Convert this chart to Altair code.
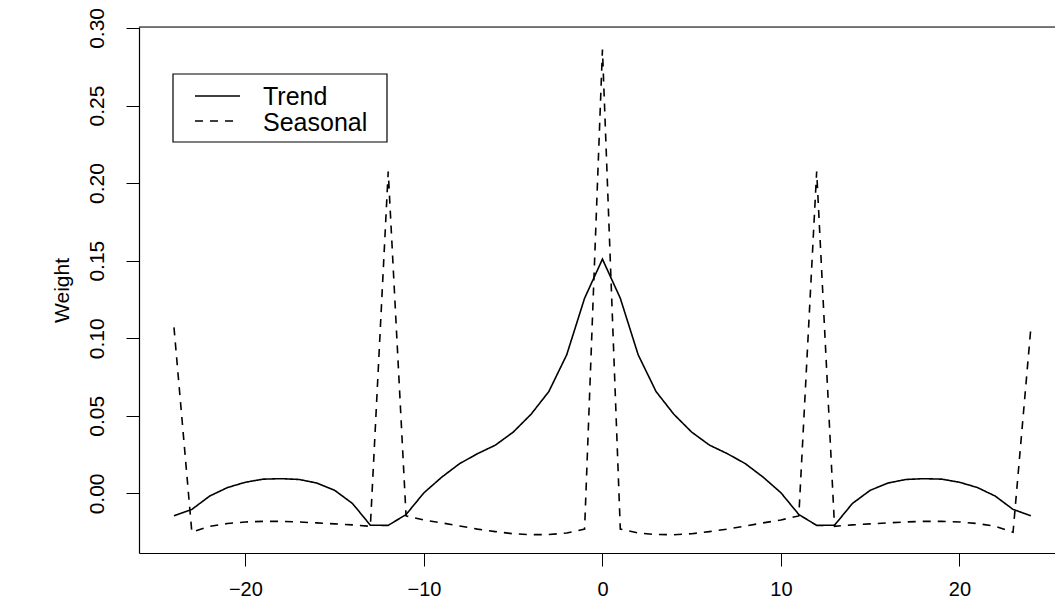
import altair as alt
import pandas as pd

lags = list(range(-24, 25))

trend = [-0.0144, -0.0103, -0.0017, 0.0038, 0.0072, 0.0092, 0.0095, 0.0090, 0.0067, 0.0020,
         -0.0065, -0.0205, -0.0206, -0.0136, 0.0004, 0.0105, 0.0192, 0.0256, 0.0311, 0.0395,
         0.0510, 0.0657, 0.0894, 0.1258, 0.1510, 0.1258, 0.0894, 0.0657, 0.0510, 0.0395,
         0.0311, 0.0256, 0.0192, 0.0105, 0.0004, -0.0136, -0.0206, -0.0205, -0.0065, 0.0020,
         0.0067, 0.0090, 0.0095, 0.0092, 0.0072, 0.0038, -0.0017, -0.0103, -0.0144]

seasonal = [0.1070, -0.0250, -0.0212, -0.0194, -0.0184, -0.0180, -0.0180, -0.0184, -0.0190, -0.0196,
            -0.0203, -0.0212, 0.2075, -0.0145, -0.0171, -0.0190, -0.0210, -0.0230, -0.0246, -0.0260,
            -0.0266, -0.0265, -0.0255, -0.0230, 0.2860, -0.0230, -0.0255, -0.0265, -0.0266, -0.0260,
            -0.0246, -0.0230, -0.0210, -0.0190, -0.0171, -0.0145, 0.2075, -0.0212, -0.0203, -0.0196,
            -0.0190, -0.0184, -0.0180, -0.0180, -0.0184, -0.0194, -0.0212, -0.0250, 0.1070]

series_names = ["Trend", "Seasonal"]
y_ticks = [0.0, 0.05, 0.10, 0.15, 0.20, 0.25, 0.30]
x_ticks = [-20, -10, 0, 10, 20]

df = pd.DataFrame({
    "lag": lags * 2,
    "weight": trend + seasonal,
    "series": [series_names[0]] * len(lags) + [series_names[1]] * len(lags),
})

FONT = "Liberation Sans"
W, H = 916, 526
DASH = [8, 7]

x_scale = alt.Scale(domain=[-25.96, 25.35], nice=False, zero=False)
y_scale = alt.Scale(domain=[-0.0384, 0.3006], nice=False, zero=False)

lines = alt.Chart(df).mark_line(color="black", strokeWidth=1.6).encode(
    x=alt.X("lag:Q", scale=x_scale,
            axis=alt.Axis(title=None, values=x_ticks, format="d", grid=False,
                          tickSize=13, tickColor="black", tickWidth=1,
                          domainColor="black", domainWidth=1.2,
                          labelFont=FONT, labelFontSize=20, labelColor="black",
                          labelPadding=13, labelBaseline="top")),
    y=alt.Y("weight:Q", scale=y_scale,
            axis=alt.Axis(title="Weight", values=y_ticks, format=".2f", grid=False,
                          tickSize=13, tickColor="black", tickWidth=1,
                          domainColor="black", domainWidth=1.2,
                          labelFont=FONT, labelFontSize=21, labelColor="black",
                          labelAngle=270, labelAlign="center", labelBaseline="middle",
                          labelPadding=29, labelOverlap=False,
                          titleFont=FONT, titleFontSize=21, titleFontWeight="normal",
                          titleColor="black", titleAngle=270, titleX=-77, titleY=H / 2,
                          titleAlign="center", titleBaseline="middle")),
    strokeDash=alt.StrokeDash("series:N",
                              scale=alt.Scale(domain=series_names, range=[[1, 0], DASH]),
                              legend=None),
    detail="series:N",
)

one = pd.DataFrame({"k": [0]})

top_border = alt.Chart(one).mark_rule(color="black", strokeWidth=1.2).encode(
    x=alt.value(0), x2=alt.value(W), y=alt.value(0)
)

legend_box = alt.Chart(one).mark_rect(fill="white", stroke="black", strokeWidth=1.2).encode(
    x=alt.value(34), x2=alt.value(248), y=alt.value(47), y2=alt.value(115)
)
legend_trend = alt.Chart(one).mark_rule(color="black", strokeWidth=1.6).encode(
    x=alt.value(56), x2=alt.value(101), y=alt.value(69)
)
legend_seas = alt.Chart(one).mark_rule(color="black", strokeWidth=1.6, strokeDash=DASH).encode(
    x=alt.value(56), x2=alt.value(101), y=alt.value(94)
)
legend_t1 = alt.Chart(one).mark_text(align="left", baseline="middle", font=FONT,
                                     fontSize=25, color="black", text=series_names[0]).encode(
    x=alt.value(124), y=alt.value(70)
)
legend_t2 = alt.Chart(one).mark_text(align="left", baseline="middle", font=FONT,
                                     fontSize=25, color="black", text=series_names[1]).encode(
    x=alt.value(124), y=alt.value(96)
)

chart = alt.layer(
    lines, top_border, legend_box, legend_trend, legend_seas, legend_t1, legend_t2
).properties(
    width=W, height=H,
    autosize=alt.AutoSizeParams(type="none"),
    padding={"left": 139, "top": 27, "right": 0, "bottom": 50},
).configure_view(stroke=None).configure(background="white")

chart.save("out.html", embed_options={"renderer": "svg", "actions": False})
